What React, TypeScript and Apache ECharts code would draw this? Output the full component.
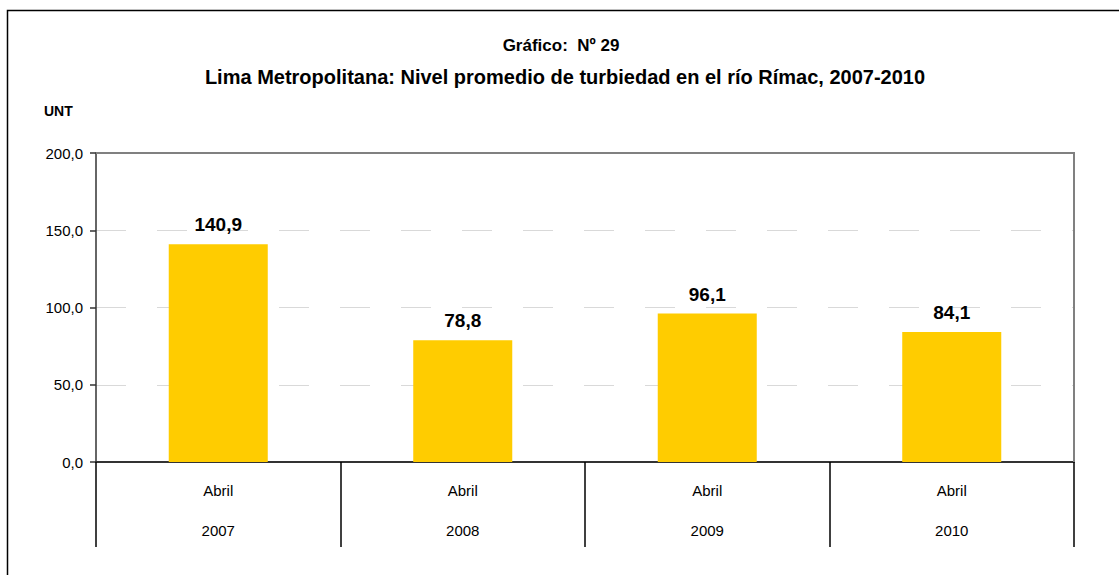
import React, { useEffect, useRef } from "react";
import * as echarts from "echarts";

const months = ["Abril", "Abril", "Abril", "Abril"];
const years = ["2007", "2008", "2009", "2010"];
const turbidity = [140.9, 78.8, 96.1, 84.1];
const titleLine1 = "Gráfico:  Nº 29";
const titleLine2 = "Lima Metropolitana: Nivel promedio de turbiedad en el río Rímac, 2007-2010";
const unitLabel = "UNT";

const FONT = "'Liberation Sans Narrow', 'Arial Narrow', 'Liberation Sans', Arial, sans-serif";
const fmt = (v: number) => v.toFixed(1).replace(".", ",");

export default function App() {
  const ref = useRef<HTMLDivElement>(null);
  useEffect(() => {
    if (!ref.current) return;
    const chart = echarts.init(ref.current, undefined, { renderer: "svg" });
    const categories = months.map((m, i) => `${m}\n\n${years[i]}`);
    chart.setOption({
      animation: false,
      backgroundColor: "#ffffff",
      textStyle: { fontFamily: FONT },
      title: [
        {
          text: titleLine1,
          left: 556,
          top: 32,
          textAlign: "center",
          textStyle: { fontFamily: FONT, fontSize: 17, fontWeight: "bold", color: "#000" },
        },
        {
          text: titleLine2,
          left: 560,
          top: 62,
          textAlign: "center",
          textStyle: { fontFamily: FONT, fontSize: 20, fontWeight: "bold", color: "#000" },
        },
      ],
      graphic: [
        {
          type: "polyline",
          shape: { points: [[7.5, 580], [7.5, 10.5], [1125, 10.5]] },
          style: { stroke: "#000", lineWidth: 1.5, fill: "none" },
          silent: true,
        },
        {
          type: "text",
          left: 44,
          top: 104,
          style: { text: unitLabel, fontFamily: FONT, fontSize: 14, fontWeight: "bold", fill: "#000" },
        },
        {
          type: "polyline",
          shape: { points: [[96, 153], [1074, 153], [1074, 462]] },
          style: { stroke: "#808080", lineWidth: 2, fill: "none" },
          silent: true,
          z: 100,
        },
      ],
      grid: {
        left: 96,
        top: 153,
        width: 978,
        height: 309,
        show: false,
      },
      xAxis: {
        type: "category",
        data: categories,
        axisLine: { show: true, lineStyle: { color: "#333", width: 2 } },
        axisTick: { show: true, interval: 0, length: 85, alignWithLabel: false, lineStyle: { color: "#000", width: 1.5 } },
        axisLabel: {
          interval: 0,
          margin: 18,
          fontFamily: FONT,
          fontSize: 15,
          color: "#000",
          lineHeight: 20,
        },
        splitLine: { show: false },
      },
      yAxis: {
        type: "value",
        min: 0,
        max: 200,
        interval: 50,
        axisLine: { show: true, lineStyle: { color: "#333", width: 1.5 } },
        axisTick: { show: true, length: 6, lineStyle: { color: "#333", width: 1.5 } },
        axisLabel: {
          margin: 13,
          fontFamily: FONT,
          fontSize: 15,
          color: "#000",
          formatter: (v: number) => fmt(v),
        },
        splitLine: { show: true, showMaxLine: false, lineStyle: { color: "#d9d9d9", width: 1, type: [30, 31] } },
      },
      series: [
        {
          type: "bar",
          data: turbidity,
          barWidth: "40.5%",
          itemStyle: { color: "#FFCC00" },
          label: {
            show: true,
            position: "top",
            distance: 10,
            fontFamily: FONT,
            fontSize: 19,
            fontWeight: "bold",
            color: "#000",
            formatter: (p: any) => fmt(p.value),
          },
        },
      ],
    });
    return () => chart.dispose();
  }, []);
  return (
    <div
      ref={ref}
      style={{ position: "absolute", left: 0, top: 0, width: 1119, height: 575 }}
    />
  );
}
